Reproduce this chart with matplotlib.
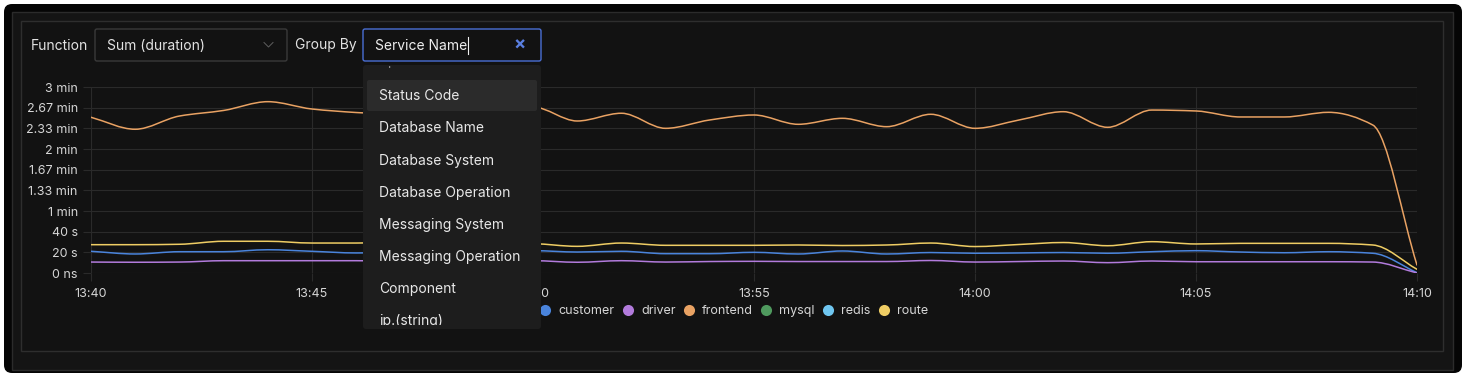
import matplotlib
matplotlib.use("Agg")
import matplotlib.pyplot as plt
import matplotlib.dates as mdates
from matplotlib.patches import FancyBboxPatch, Rectangle, PathPatch
from matplotlib.path import Path
from matplotlib.lines import Line2D
from matplotlib.transforms import Bbox, TransformedBbox
import numpy as np
import pandas as pd

W, H = 1469, 381

# one bucket per minute, 13:40 .. 14:10
times = pd.date_range("2024-05-20 13:40", "2024-05-20 14:10", freq="1min")

# sum(duration) in seconds
frontend = [150.7, 139.1, 151.9, 157.3, 165.8, 158.7, 155.3, 153.0, 148.0, 156.0,
            160.6, 147.1, 154.6, 140.0, 148.1, 152.9, 143.9, 149.7, 141.6, 153.6,
            140.0, 148.1, 156.1, 141.0, 157.7, 156.8, 151.0, 151.0, 155.5, 143.2, 7.7]
route = [27.4, 27.4, 27.8, 30.7, 30.7, 29.0, 29.0, 29.5, 28.5, 29.0,
         28.4, 25.8, 29.0, 26.8, 26.8, 26.8, 27.1, 26.6, 27.1, 29.0,
         25.6, 27.6, 29.5, 26.4, 30.3, 28.1, 28.7, 28.7, 28.7, 27.1, 3.6]
customer = [21.0, 18.4, 20.6, 20.6, 22.5, 21.0, 19.4, 20.0, 21.0, 20.5,
            21.6, 20.3, 21.0, 18.7, 18.7, 20.0, 18.4, 21.3, 18.4, 19.8,
            19.1, 19.4, 19.8, 19.1, 20.6, 21.6, 20.3, 19.6, 20.6, 19.1, 0.3]
driver = [10.6, 10.4, 10.6, 11.9, 11.9, 11.9, 11.9, 11.5, 11.5, 11.5,
          11.9, 10.4, 11.9, 10.6, 11.1, 11.3, 11.1, 11.1, 11.1, 12.1,
          10.6, 11.1, 11.6, 10.0, 11.6, 10.9, 10.9, 10.9, 10.9, 10.6, 0.0]
# no visible line for these two in this window
mysql = []
redis = []

series_names = ["customer", "driver", "frontend", "mysql", "redis", "route"]
series_colors = ["#4a84dc", "#b27bdc", "#e9a263", "#4f9a5e", "#6fc6f0", "#efcd64"]
series_values = [customer, driver, frontend, mysql, redis, route]

y_ticks = [0, 20, 40, 60, 80, 100, 120, 140, 160, 180]
y_tick_labels = ["0 ns", "20 s", "40 s", "1 min", "1.33 min", "1.67 min",
                 "2 min", "2.33 min", "2.67 min", "3 min"]

group_options = ["Status Code", "Database Name", "Database System", "Database Operation",
                 "Messaging System", "Messaging Operation", "Component", "ip.(string)"]

plt.rcParams["font.family"] = ["Inter", "DejaVu Sans"]

BG = "#121212"
GRID = "#2a2a2a"
TXT = "#d6d6d6"


def smooth_path(x, y):
    # monotone cubic (pchip-style tangents) drawn as bezier segments
    x = np.asarray(x, float)
    y = np.asarray(y, float)
    n = len(x)
    h = np.diff(x)
    d = np.diff(y) / h
    m = np.zeros(n)
    m[0], m[-1] = d[0], d[-1]
    for k in range(1, n - 1):
        if d[k - 1] * d[k] > 0:
            w1 = 2 * h[k] + h[k - 1]
            w2 = h[k] + 2 * h[k - 1]
            m[k] = (w1 + w2) / (w1 / d[k - 1] + w2 / d[k])
    verts = [(x[0], y[0])]
    codes = [Path.MOVETO]
    for i in range(n - 1):
        c1 = (x[i] + h[i] / 3, y[i] + m[i] * h[i] / 3)
        c2 = (x[i + 1] - h[i] / 3, y[i + 1] - m[i + 1] * h[i] / 3)
        verts += [c1, c2, (x[i + 1], y[i + 1])]
        codes += [Path.CURVE4] * 3
    return Path(verts, codes)


fig = plt.figure(figsize=(W / 100, H / 100), dpi=100)
fig.patch.set_facecolor("white")

# background panels, pixel coordinates
bg = fig.add_axes([0, 0, 1, 1], zorder=-10)
bg.set_xlim(0, W)
bg.set_ylim(H, 0)
bg.axis("off")
bg.add_patch(FancyBboxPatch((4, 4), 1458, 369, boxstyle="round,pad=0,rounding_size=8",
                            facecolor="#050505", edgecolor="none"))
bg.add_patch(Rectangle((12, 12), 1441, 358, facecolor="#141414", edgecolor="#2b2b2b", lw=1))
bg.add_patch(Rectangle((21, 21), 1422, 330, facecolor=BG, edgecolor="#2e2e2e", lw=1))

# chart
ax = fig.add_axes([91 / W, (H - 273) / H, 1326 / W, 186 / H], zorder=1)
ax.set_facecolor("none")
xnum = mdates.date2num(times)
ax.set_xlim(xnum[0], xnum[-1])
ax.set_ylim(0, 180)
ax.set_yticks(y_ticks)
ax.set_yticklabels(y_tick_labels)
ax.xaxis.set_major_locator(mdates.MinuteLocator(byminute=range(0, 60, 5)))
ax.xaxis.set_major_formatter(mdates.DateFormatter("%H:%M"))
ax.grid(True, color=GRID, lw=0.8)
ax.set_axisbelow(True)
for s in ax.spines.values():
    s.set_visible(False)
ax.tick_params(axis="both", color=GRID, labelcolor=TXT, length=6, width=0.8, labelsize=9)
ax.tick_params(axis="y", pad=3.5)
ax.tick_params(axis="x", pad=5)

for name, col, vals in zip(series_names, series_colors, series_values):
    if len(vals) < 2:
        continue
    ax.add_patch(PathPatch(smooth_path(xnum, vals), fill=False, edgecolor=col,
                           lw=1.1, zorder=3, capstyle="round", joinstyle="round"))

handles = [Line2D([], [], marker="o", ls="", markersize=8, color=c, markeredgewidth=0)
           for c in series_colors]
fig.legend(handles, series_names, loc="center", bbox_to_anchor=(734 / W, 1 - 311 / H),
           ncol=6, frameon=False, fontsize=9, handlelength=0.9, handletextpad=0.6,
           columnspacing=0.62, labelcolor=TXT, borderpad=0)

# controls and open dropdown drawn on top
ui = fig.add_axes([0, 0, 1, 1], zorder=10)
ui.set_xlim(0, W)
ui.set_ylim(H, 0)
ui.axis("off")
ui.patch.set_visible(False)

ui.text(31, 45.5, "Function", color="#e2e2e2", fontsize=10, va="center", ha="left")
ui.add_patch(FancyBboxPatch((95, 29), 192, 32, boxstyle="round,pad=0,rounding_size=2",
                            facecolor=BG, edgecolor="#3a3a3a", lw=1))
ui.text(107, 45.5, "Sum (duration)", color="#e2e2e2", fontsize=10, va="center", ha="left")
ui.plot([264, 268.5, 273], [42.5, 47, 42.5], color="#5e5e5e", lw=0.7)

ui.text(295, 45.5, "Group By", color="#e2e2e2", fontsize=10, va="center", ha="left")
ui.add_patch(FancyBboxPatch((363, 29), 178, 32, boxstyle="round,pad=0,rounding_size=2",
                            facecolor=BG, edgecolor="#4a6fd4", lw=1))
sn = ui.text(375, 45.5, "Service Name", color="#eeeeee", fontsize=10, va="center", ha="left")
ui.text(520, 45.5, "\u00d7", color="#5a7fe0", fontsize=13, fontweight="bold",
        va="center", ha="center")

fig.canvas.draw()
ext = sn.get_window_extent(fig.canvas.get_renderer())
ui.plot([ext.x1 + 1, ext.x1 + 1], [37, 54], color="#f0f0f0", lw=0.8)

menu = FancyBboxPatch((363, 65), 178, 264, boxstyle="round,pad=0,rounding_size=3",
                      facecolor="#1d1d1d", edgecolor="none")
ui.add_patch(menu)
ui.add_patch(FancyBboxPatch((367, 80), 170, 31, boxstyle="round,pad=0,rounding_size=2",
                            facecolor="#2b2b2b", edgecolor="none"))
menu_box = TransformedBbox(Bbox.from_extents(363, 66, 541, 325), ui.transData)
top = ui.text(379, 61, "Span Kind", color="#8a8a8a", fontsize=10, va="center", ha="left")
top.set_clip_box(menu_box)
top.set_clip_on(True)
for i, opt in enumerate(group_options):
    t = ui.text(379, 96.5 + 32 * i, opt, color="#e8e8e8", fontsize=10, va="center", ha="left")
    t.set_clip_box(menu_box)
    t.set_clip_on(True)

fig.savefig("out.png", dpi=100, facecolor=fig.get_facecolor())
